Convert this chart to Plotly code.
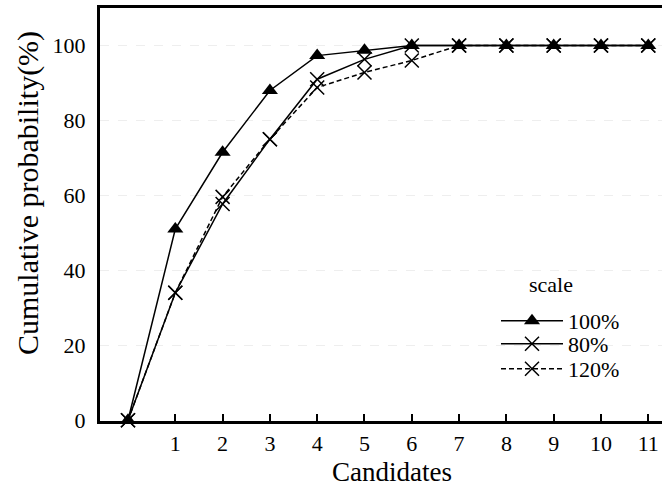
import plotly.graph_objects as go

candidates = [0, 1, 2, 3, 4, 5, 6, 7, 8, 9, 10, 11]
scale_100 = [0, 51, 71.5, 88, 97.3, 98.7, 100, 100, 100, 100, 100, 100]
scale_80 = [0, 34, 57.7, 75, 91, 96.3, 100, 100, 100, 100, 100, 100]
scale_120 = [0, 34, 59.6, 75, 88.8, 92.8, 96, 100, 100, 100, 100, 100]
series_names = ["100%", "80%", "120%"]
x_ticks = [1, 2, 3, 4, 5, 6, 7, 8, 9, 10, 11]
y_ticks = [0, 20, 40, 60, 80, 100]

FONT = "Liberation Serif"
W, H = 662, 489
L, R, T, B = 100, 0, 8, 68
PW, PH = W - L - R, H - T - B


def px_x(px):
    return (px - L) / PW


def px_y(py):
    return (H - B - py) / PH


fig = go.Figure()
fig.add_trace(go.Scatter(
    x=candidates, y=scale_100, name=series_names[0], mode="lines+markers",
    legend="legend",
    line=dict(color="black", width=1.5),
    marker=dict(symbol="triangle-up", size=14, color="black"),
    cliponaxis=False))
fig.add_trace(go.Scatter(
    x=candidates, y=scale_80, name=series_names[1], mode="lines+markers",
    legend="legend2",
    line=dict(color="black", width=1.5),
    marker=dict(symbol="x-thin-open", size=14, color="black",
                line=dict(width=1.5, color="black")),
    cliponaxis=False))
fig.add_trace(go.Scatter(
    x=candidates, y=scale_120, name=series_names[2], mode="lines+markers",
    legend="legend3",
    line=dict(color="black", width=1.5, dash="5px,3px"),
    marker=dict(symbol="x-thin-open", size=14, color="black",
                line=dict(width=1.5, color="black")),
    cliponaxis=False))

leg_common = dict(xanchor="left", yanchor="top",
                  font=dict(family=FONT, size=22, color="black"),
                  bgcolor="rgba(0,0,0,0)", itemwidth=62)

fig.update_layout(
    width=W, height=H,
    margin=dict(l=L, r=R, t=T, b=B, autoexpand=False),
    paper_bgcolor="white", plot_bgcolor="white",
    font=dict(family=FONT, size=22, color="black"),
    showlegend=True,
    legend=dict(x=px_x(496), y=px_y(300), **leg_common),
    legend2=dict(x=px_x(496), y=px_y(323), **leg_common),
    legend3=dict(x=px_x(496), y=px_y(348), **leg_common),
    xaxis=dict(range=[-0.592, 11.29], tickmode="array", tickvals=x_ticks,
               ticktext=[str(v) for v in x_ticks],
               tickfont=dict(family=FONT, size=22),
               ticks="inside", ticklen=7, tickwidth=1.5, tickcolor="black",
               showline=True, linecolor="black", linewidth=3, mirror=True,
               showgrid=False, zeroline=False, ticklabelstandoff=1,
               automargin=False),
    yaxis=dict(range=[-0.2, 110], tickmode="array", tickvals=y_ticks,
               tickfont=dict(family=FONT, size=22),
               ticks="", showline=True, linecolor="black", linewidth=3,
               showgrid=True, gridcolor="#eeeeee", griddash="dash", gridwidth=1,
               zeroline=False, ticklabelstandoff=7, automargin=False),
    annotations=[
        dict(text="Candidates", x=px_x(392), y=px_y(488), xref="paper", yref="paper",
             xanchor="center", yanchor="bottom", showarrow=False, borderpad=0,
             font=dict(family=FONT, size=27)),
        dict(text="scale", x=px_x(551), y=px_y(284), xref="paper", yref="paper",
             xanchor="center", yanchor="middle", showarrow=False,
             font=dict(family=FONT, size=22)),
        dict(text="Cumulative probability(%)", textangle=-90,
             x=px_x(28), y=px_y(193), xref="paper", yref="paper",
             xanchor="center", yanchor="middle", showarrow=False,
             font=dict(family=FONT, size=30)),
    ],
)

fig.write_html("out.html", config={"displayModeBar": False},
               post_script="document.body.style.margin='0';")
